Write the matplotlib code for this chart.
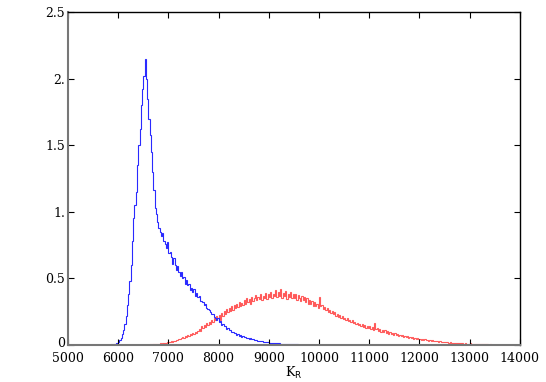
import matplotlib
matplotlib.use("Agg")
import matplotlib.pyplot as plt
import matplotlib.transforms as mtransforms
import numpy as np

# histogram bins (width 25)
bin_w = 25
blue_start = 5700
blue_vals = [0.0, 0.001, 0.0, 0.002, 0.001, 0.003, 0.004, 0.003, 0.007, 0.006,
             0.011, 0.016, 0.024, 0.038, 0.055, 0.08, 0.115, 0.16, 0.22, 0.3,
             0.38, 0.48, 0.6, 0.78, 0.95, 1.05, 1.15, 1.35, 1.5, 1.62,
             1.8, 1.92, 2.02, 2.15, 2.0, 1.85, 1.7, 1.58, 1.45, 1.3,
             1.16, 1.03, 0.98, 0.92, 0.88, 0.85, 0.82, 0.84, 0.78, 0.76,
             0.73, 0.77, 0.69, 0.7, 0.66, 0.61, 0.65, 0.6, 0.56, 0.59,
             0.55, 0.52, 0.55, 0.5, 0.51, 0.46, 0.49, 0.45, 0.46, 0.41,
             0.43, 0.4, 0.42, 0.37, 0.39, 0.36, 0.37, 0.33, 0.33, 0.32,
             0.3, 0.31, 0.28, 0.27, 0.26, 0.25, 0.23, 0.235, 0.21, 0.2,
             0.19, 0.2, 0.17, 0.18, 0.15, 0.16, 0.14, 0.145, 0.12, 0.13,
             0.11, 0.115, 0.095, 0.1, 0.088, 0.092, 0.078, 0.084, 0.07, 0.075,
             0.062, 0.068, 0.057, 0.06, 0.05, 0.054, 0.045, 0.049, 0.041, 0.044,
             0.038, 0.036, 0.034, 0.032, 0.03, 0.028, 0.027, 0.025, 0.023, 0.022,
             0.02, 0.019, 0.018, 0.017, 0.016, 0.015, 0.014, 0.013, 0.012, 0.011,
             0.011, 0.01, 0.009, 0.009, 0.008, 0.007, 0.007, 0.006, 0.006, 0.005,
             0.005, 0.005, 0.004, 0.004, 0.004, 0.003, 0.003, 0.003, 0.003, 0.002,
             0.002, 0.002, 0.002, 0.002, 0.001, 0.001, 0.001, 0.001, 0.001, 0.001,
             0.001, 0.0, 0.001, 0.0, 0.0]

red_start = 6500
red_vals = [0.001, 0.002, 0.001, 0.003, 0.002, 0.004, 0.003, 0.005, 0.004, 0.007,
            0.006, 0.009, 0.008, 0.011, 0.01, 0.014, 0.012, 0.017, 0.015, 0.02,
            0.024, 0.019, 0.028, 0.025, 0.033, 0.028, 0.04, 0.035, 0.046, 0.041,
            0.05, 0.058, 0.052, 0.064, 0.06, 0.075, 0.068, 0.082, 0.075, 0.09,
            0.085, 0.1, 0.092, 0.108, 0.12, 0.105, 0.14, 0.128, 0.15, 0.135,
            0.165, 0.15, 0.17, 0.158, 0.19, 0.175, 0.2, 0.185, 0.22, 0.205,
            0.225, 0.19, 0.24, 0.215, 0.255, 0.23, 0.27, 0.245, 0.28, 0.255,
            0.29, 0.265, 0.3, 0.275, 0.31, 0.285, 0.32, 0.29, 0.315, 0.3,
            0.34, 0.31, 0.355, 0.32, 0.345, 0.305, 0.36, 0.33, 0.35, 0.375,
            0.335, 0.36, 0.345, 0.38, 0.34, 0.37, 0.35, 0.39, 0.345, 0.38,
            0.36, 0.395, 0.35, 0.385, 0.365, 0.41, 0.36, 0.4, 0.37, 0.42,
            0.355, 0.39, 0.37, 0.405, 0.345, 0.385, 0.36, 0.4, 0.35, 0.38,
            0.35, 0.385, 0.34, 0.375, 0.355, 0.33, 0.37, 0.34, 0.36, 0.325,
            0.35, 0.31, 0.34, 0.305, 0.33, 0.295, 0.32, 0.29, 0.31, 0.28,
            0.36, 0.29, 0.3, 0.27, 0.285, 0.26, 0.275, 0.25, 0.265, 0.24,
            0.255, 0.23, 0.245, 0.22, 0.235, 0.21, 0.225, 0.2, 0.215, 0.195,
            0.205, 0.185, 0.2, 0.18, 0.19, 0.17, 0.185, 0.165, 0.175, 0.155,
            0.165, 0.15, 0.16, 0.14, 0.155, 0.135, 0.15, 0.13, 0.145, 0.125,
            0.14, 0.12, 0.135, 0.115, 0.165, 0.12, 0.13, 0.105, 0.12, 0.1,
            0.115, 0.095, 0.11, 0.09, 0.105, 0.085, 0.098, 0.08, 0.092, 0.078,
            0.088, 0.074, 0.084, 0.07, 0.078, 0.066, 0.074, 0.062, 0.07, 0.058,
            0.066, 0.055, 0.062, 0.052, 0.058, 0.048, 0.054, 0.045, 0.05, 0.042,
            0.048, 0.04, 0.045, 0.038, 0.042, 0.035, 0.039, 0.032, 0.036, 0.03,
            0.034, 0.028, 0.032, 0.026, 0.03, 0.024, 0.027, 0.022, 0.025, 0.02,
            0.023, 0.019, 0.021, 0.017, 0.019, 0.016, 0.018, 0.014, 0.016, 0.013,
            0.015, 0.012, 0.013, 0.011, 0.012, 0.01, 0.011, 0.009, 0.01, 0.008,
            0.012, 0.008, 0.009, 0.007, 0.008, 0.006, 0.007, 0.006, 0.006, 0.005,
            0.006, 0.004, 0.005, 0.004, 0.004, 0.003, 0.004, 0.003, 0.003, 0.002,
            0.003, 0.002, 0.002, 0.002, 0.002, 0.001, 0.001, 0.001, 0.001, 0.0]

xticks = [5000, 6000, 7000, 8000, 9000, 10000, 11000, 12000, 13000, 14000]
yticks = [0, 0.5, 1, 1.5, 2, 2.5]
ytick_labels = ["0", "0.5", "1.", "1.5", "2.", "2.5"]

plt.rcParams['font.family'] = ['DejaVu Serif']
plt.rcParams['font.size'] = 9

fig = plt.figure(figsize=(5.46, 3.82), dpi=100)
ax = fig.add_axes([0.1245, 0.097, 0.8275, 0.8716])

blue_edges = blue_start + bin_w * np.arange(len(blue_vals) + 1)
red_edges = red_start + bin_w * np.arange(len(red_vals) + 1)
ax.stairs(red_vals, red_edges, color='#ff5a5a', linewidth=0.8)
ax.stairs(blue_vals, blue_edges, color='#2a2aff', linewidth=0.8)

ax.set_xlim(5000, 14000)
ax.set_ylim(0, 2.5)
ax.set_xticks(xticks)
ax.set_yticks(yticks)
ax.set_yticklabels(ytick_labels)
ax.tick_params(direction='in', length=4, top=True, right=True)
ax.tick_params(axis='x', pad=5)
ax.tick_params(axis='y', pad=2)

# nudge the "0" label up a little so it sits just above "5000"
zero_lab = ax.get_yticklabels()[0]
zero_lab.set_transform(zero_lab.get_transform() +
                       mtransforms.ScaledTranslation(0, 2 / 72, fig.dpi_scale_trans))

for s in ['left', 'bottom']:
    ax.spines[s].set_color('#777777')
    ax.spines[s].set_linewidth(1.5)
for s in ['top', 'right']:
    ax.spines[s].set_color('black')
    ax.spines[s].set_linewidth(1.0)

ax.set_xlabel('K$_\\mathrm{R}$', labelpad=0)

fig.savefig('out.png', dpi=100)
